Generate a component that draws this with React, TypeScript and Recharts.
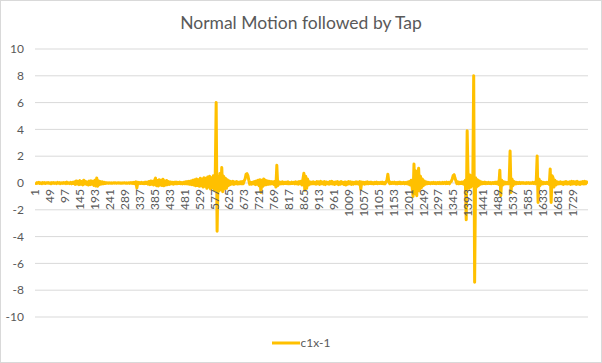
import React from "react";
import { LineChart, Line, XAxis, YAxis, CartesianGrid, Legend } from "recharts";

const seriesName = "c1x-1";
const chartTitle = "Normal Motion followed by Tap";

// one reading every SAMPLE_STEP categories, starting at category 1
const SAMPLE_STEP = 3;
const CATEGORY_COUNT = 1778;

const c1xValues: number[] = [
  0.02,-0.04,0.03,-0.02,0.05,-0.03,0.01,-0.05,0.04,-0.02,0.03,-0.04,0.02,-0.01,0.04,-0.03,0.02,-0.05,0.03,-0.02,
  0.04,-0.03,0.02,-0.04,0.05,-0.02,0.03,-0.05,0.02,-0.03,0.04,-0.02,0.03,-0.04,0.06,-0.03,0.02,-0.04,0.05,-0.06,
  0.05,-0.04,0.08,-0.1,0.15,-0.08,0.12,-0.12,0.18,-0.1,0.1,-0.14,0.2,-0.08,0.12,-0.1,0.08,-0.15,0.14,-0.12,
  0.16,-0.1,0.12,-0.18,0.2,-0.22,0.38,-0.25,0.15,-0.12,0.1,-0.08,0.08,-0.06,0.05,-0.04,0.03,-0.02,0.02,-0.03,
  0.02,-0.02,0.01,-0.02,0.02,-0.01,0.02,-0.02,0.01,-0.01,0.02,-0.02,0.01,-0.02,0.01,-0.01,0.02,-0.02,0.01,-0.02,
  0.02,-0.03,0.03,-0.02,0.04,-0.03,0.05,-0.06,0.08,-0.38,0.06,-0.05,0.04,-0.03,0.05,-0.04,0.03,-0.05,0.06,-0.04,
  0.06,-0.08,0.1,-0.12,0.15,-0.1,0.12,-0.15,0.2,0.36,-0.2,0.18,-0.22,0.25,-0.15,0.2,-0.18,0.28,-0.2,0.15,
  -0.15,0.18,-0.12,0.1,-0.1,0.08,-0.06,0.05,-0.08,0.06,-0.05,0.07,-0.06,0.05,-0.04,0.06,-0.05,0.04,-0.06,0.05,
  -0.05,0.08,-0.06,0.1,-0.08,0.12,-0.1,0.15,-0.12,0.2,-0.15,0.25,-0.2,0.3,-0.18,0.25,-0.25,0.35,-0.2,0.3,
  -0.3,0.4,-0.25,0.35,-0.4,0.45,-0.3,0.5,-0.45,0.4,-0.35,0.55,-0.5,0.45,6.0,-3.6,0.5,-0.6,0.7,-0.5,
  1.15,-0.65,0.5,-0.45,0.35,-0.4,0.25,-0.2,0.15,-0.12,0.1,-0.08,0.12,-0.1,0.08,-0.06,0.1,-0.08,0.06,-0.05,
  0.08,-0.06,0.1,-0.05,0.15,0.3,0.65,0.7,0.55,0.2,-0.1,0.05,-0.08,0.06,-0.05,0.1,-0.12,0.15,-0.1,0.2,
  -0.2,0.25,-0.7,0.2,-0.25,0.3,-0.15,0.2,-0.12,0.15,-0.1,0.12,-0.08,0.1,-0.06,0.08,-0.1,0.12,-0.3,1.32,
  -0.2,0.1,-0.08,0.06,-0.05,0.08,-0.06,0.05,-0.04,0.06,-0.05,0.08,-0.06,0.04,-0.05,0.06,-0.04,0.05,-0.06,0.08,
  -0.05,0.06,-0.08,0.1,-0.06,0.12,-0.15,0.3,0.72,-0.55,0.5,-0.4,0.3,-0.15,0.1,-0.08,0.06,-0.05,0.08,-0.06,
  0.05,-0.08,0.1,-0.06,0.08,-0.1,0.12,-0.05,0.06,-0.08,0.1,-0.12,0.08,-0.06,0.05,-0.08,0.1,-0.06,0.12,-0.08,
  0.06,-0.1,0.08,-0.05,0.1,-0.12,0.06,-0.08,0.1,-0.06,0.05,-0.1,0.08,-0.15,0.06,-0.08,0.1,-0.05,0.08,-0.1,
  0.06,-0.08,0.05,-0.06,0.08,-0.05,0.06,-0.08,0.1,-0.48,0.08,-0.06,0.05,-0.08,0.06,-0.05,0.08,-0.06,0.05,-0.04,
  0.06,-0.05,0.04,-0.06,0.05,-0.04,0.06,-0.05,0.04,-0.03,0.05,-0.04,0.06,-0.05,0.04,-0.06,0.08,0.2,0.66,0.1,
  -0.05,0.06,-0.04,0.05,-0.03,0.06,-0.05,0.04,-0.06,0.05,-0.04,0.06,-0.05,0.04,-0.03,0.05,-0.06,0.04,-0.05,0.06,
  -0.08,0.1,-0.15,0.2,-0.3,-1.0,1.42,-0.8,0.9,-0.95,0.7,1.1,-0.6,0.5,-0.35,0.3,-0.2,0.15,-0.1,0.08,
  -0.06,0.05,-0.04,0.03,-0.05,0.04,-0.03,0.05,-0.04,0.03,-0.05,0.04,-0.03,0.04,-0.05,0.03,-0.04,0.05,-0.03,0.04,
  -0.05,0.06,-0.04,0.05,-0.06,0.08,0.12,0.3,0.55,0.62,0.35,0.15,-0.05,0.08,-0.06,0.05,-0.04,0.06,-0.05,0.08,
  -0.1,0.2,-2.75,3.9,0.3,-0.4,0.6,-0.3,0.25,-0.2,8.0,-7.4,0.4,-0.3,0.25,-0.2,0.15,-0.1,0.08,-0.06,
  0.05,-0.04,0.06,-0.05,0.04,-0.03,0.05,-0.04,0.03,-0.05,0.04,-0.03,0.05,-0.04,0.06,-0.05,0.08,-0.1,0.96,-0.95,
  0.2,-0.15,0.1,-0.08,0.06,-0.05,0.04,-0.06,0.1,2.38,-0.7,0.3,-0.2,0.12,-0.08,0.06,-0.05,0.04,-0.03,0.05,
  -0.04,0.03,-0.02,0.04,-0.03,0.02,-0.04,0.03,-0.02,0.03,-0.04,0.02,-0.03,0.04,-0.03,0.05,-0.06,0.1,2.02,-1.45,
  0.3,-0.2,0.12,-0.08,0.06,-0.05,0.04,-0.03,0.05,-0.04,0.06,-0.1,1.05,-1.45,0.55,0.4,-0.3,0.2,-0.15,0.1,
  -0.08,0.06,-0.05,0.08,-0.06,0.05,-0.1,0.08,-0.06,0.1,-0.08,0.06,-0.05,0.08,-0.1,0.12,-0.08,0.1,-0.06,0.08,
  -0.1,0.12,-0.08,0.06,-0.1,0.08,-0.06,0.1,-0.08,0.12,-0.06,0.08,-0.05,
];

const xTickLabels: number[] = [
  1, 49, 97, 145, 193, 241, 289, 337, 385, 433, 481, 529, 577, 625, 673, 721, 769, 817, 865,
  913, 961, 1009, 1057, 1105, 1153, 1201, 1249, 1297, 1345, 1393, 1441, 1489, 1537, 1585, 1633, 1681, 1729,
];
const yTicks: number[] = [-10, -8, -6, -4, -2, 0, 2, 4, 6, 8, 10];

const data = c1xValues.map((v, k) => ({ idx: 1 + k * SAMPLE_STEP, v }));

const FONT = "Lato, 'Open Sans', sans-serif";
const TEXT_COLOR = "#595959";
const LINE_COLOR = "#FFC000";

const CHART_W = 600;
const CHART_H = 361;
const X_AXIS_H = 1;
const MARGIN = { top: 48, right: 13, bottom: 44, left: 0 };
const PLOT_H = CHART_H - MARGIN.top - MARGIN.bottom - X_AXIS_H;
const ZERO_Y = MARGIN.top + PLOT_H / 2;

const XTick = (props: any) => {
  const { x, payload } = props;
  return (
    <g transform={`translate(${x},${ZERO_Y + 6})`}>
      <text
        transform="rotate(-90)"
        textAnchor="end"
        dy="0.35em"
        fontSize={12}
        fontFamily={FONT}
        fill={TEXT_COLOR}
      >
        {payload.value}
      </text>
    </g>
  );
};

const LegendContent = () => (
  <div style={{ display: "flex", justifyContent: "center", alignItems: "center", fontFamily: FONT, fontSize: 12, color: TEXT_COLOR }}>
    <svg width={28} height={6} style={{ display: "block" }}>
      <line x1={0} y1={3} x2={28} y2={3} stroke={LINE_COLOR} strokeWidth={3} />
    </svg>
    <span style={{ marginLeft: 1 }}>{seriesName}</span>
  </div>
);

export default function App() {
  return (
    <div
      style={{
        position: "absolute",
        left: 0,
        top: 0,
        width: 602,
        height: 363,
        boxSizing: "border-box",
        border: "1px solid #d9d9d9",
        background: "#ffffff",
        fontFamily: FONT,
      }}
    >
      <div
        style={{
          position: "absolute",
          left: 0,
          top: 10,
          width: 600,
          textAlign: "center",
          fontSize: 17.5,
          color: TEXT_COLOR,
          fontFamily: FONT,
          lineHeight: "24px",
        }}
      >
        {chartTitle}
      </div>
      <LineChart width={CHART_W} height={CHART_H} data={data} margin={MARGIN}>
        <CartesianGrid vertical={false} stroke="#d9d9d9" strokeWidth={1} />
        <XAxis
          dataKey="idx"
          type="number"
          domain={[0.5, CATEGORY_COUNT + 0.5]}
          ticks={xTickLabels}
          interval={0}
          height={X_AXIS_H}
          axisLine={false}
          tickLine={false}
          tick={<XTick />}
          allowDataOverflow
        />
        <YAxis
          domain={[-10, 10]}
          ticks={yTicks}
          width={34}
          axisLine={false}
          tickLine={false}
          tickSize={0}
          tickMargin={11}
          interval={0}
          tick={{ fontSize: 12, fill: TEXT_COLOR, fontFamily: FONT }}
        />
        <Line
          type="linear"
          dataKey="v"
          name={seriesName}
          stroke={LINE_COLOR}
          strokeWidth={3}
          strokeLinejoin="round"
          dot={false}
          activeDot={false}
          isAnimationActive={false}
        />
        <Legend
          layout="horizontal"
          verticalAlign="middle"
          align="center"
          content={<LegendContent />}
          wrapperStyle={{ top: 334, left: 0, width: 600 }}
        />
      </LineChart>
    </div>
  );
}
